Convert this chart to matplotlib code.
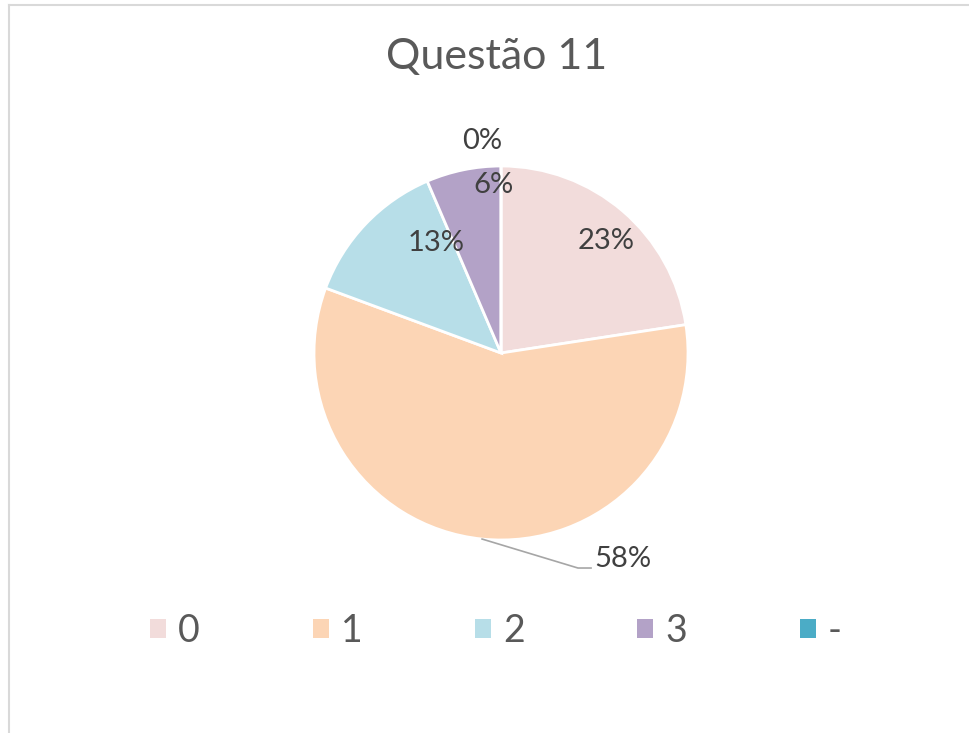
import numpy as np
import matplotlib
matplotlib.use("Agg")
import matplotlib.pyplot as plt
from matplotlib.patches import Patch
from matplotlib.lines import Line2D

plt.rcParams['font.family'] = ['Lato', 'DejaVu Sans']

# data: answers per score (31 students)
categories = ['0', '1', '2', '3', '-']
counts = [7, 18, 4, 2, 0]
colors = ['#F2DCDB', '#FCD5B5', '#B7DEE8', '#B3A2C7', '#4BACC6']
title = 'Questão 11'

# label placement tweaks (radius, angle offset in degrees) - Excel "best fit" look
lab_r = [0.82, 1.28, 0.68, 0.90, 1.14]
lab_da = [-2.5, 36.4, -15.9, -9.2, 5.1]

fig = plt.figure(figsize=(9.7, 7.33), dpi=100)

# light chart frame, cut off at right/bottom like the screenshot
fig.add_artist(Line2D([9.5/970, 9.5/970], [0, 1 - 4.5/733], transform=fig.transFigure,
                      color='#D9D9D9', lw=1.5))
fig.add_artist(Line2D([9.5/970, 1], [1 - 4.5/733, 1 - 4.5/733], transform=fig.transFigure,
                      color='#D9D9D9', lw=1.5))

# pie axes: center (501,353) px, radius 187 px
R = 187.0
half = 1.3
ax = fig.add_axes([(501 - half*R)/970, (733 - 353 - half*R)/733, 2*half*R/970, 2*half*R/733])

wedges, _ = ax.pie(counts, colors=colors, startangle=90, counterclock=False, radius=1.0,
                   wedgeprops=dict(edgecolor='white', linewidth=2.0))
ax.set_xlim(-half, half)
ax.set_ylim(-half, half)
ax.axis('off')

total = float(sum(counts))
pcts = [round(100*c/total) for c in counts]
for i, w in enumerate(wedges):
    mid = (w.theta1 + w.theta2) / 2.0
    a = np.deg2rad(mid + lab_da[i])
    lx, ly = lab_r[i]*np.cos(a), lab_r[i]*np.sin(a)
    ax.text(lx, ly, '%d%%' % pcts[i], ha='center', va='center',
            fontsize=21, color='#404040')
    if lab_r[i] > 1.2:
        # leader line from the wedge edge to the outside label
        ex, ey = np.cos(np.deg2rad(mid)), np.sin(np.deg2rad(mid))
        ax.plot([ex, lx - 0.24, lx - 0.17], [ey, ly - 0.048, ly - 0.048],
                color='#A6A6A6', lw=1.2)

fig.text(497/970, 1 - 57/733, title, ha='center', va='center', fontsize=31, color='#595959')

handles = [Patch(facecolor=c, edgecolor='none') for c in colors]
fig.legend(handles, categories, loc='center', bbox_to_anchor=(496/970, 1 - 631/733),
           ncol=5, frameon=False, fontsize=27, labelcolor='#595959',
           handlelength=0.43, handleheight=0.43, handletextpad=0.32, columnspacing=3.0)

fig.savefig('out.png', dpi=100)
